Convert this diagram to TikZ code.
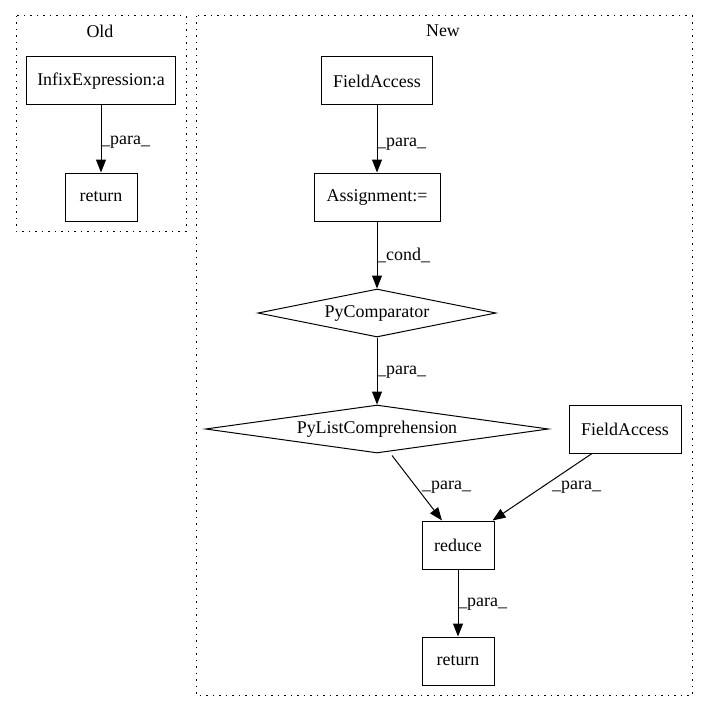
\documentclass[tikz,border=0pt]{standalone}
\usepackage{fontspec}
\setmainfont{Liberation Serif}
\usetikzlibrary{arrows.meta,shapes.geometric}
\begin{document}
\begin{tikzpicture}[x=1bp,y=-1bp,
  every node/.style={font=\fontsize{18}{21}\selectfont},
  box/.style={draw,line width=1bp,rectangle,inner sep=0pt,minimum width=#1,minimum height=48bp},
  dia/.style={draw,line width=1bp,diamond,aspect=6,inner sep=0pt,minimum width=#1,minimum height=48bp},
  cluster/.style={draw,line width=1bp,dash pattern=on 1.5bp off 5bp},
  edge/.style={line width=1bp,-{Triangle[length=13bp,width=10bp]}},
  elabel/.style={anchor=west,inner sep=0pt}
]
\useasboundingbox (0,0) rectangle (708,712);
\fill[white] (0,0) rectangle (708,712);

% clusters
\draw[cluster] (16,16) rectangle (186,231);
\draw[cluster] (196,16) rectangle (692,695);
\node (told) at (100,31) {Old};
\node (tnew) at (443,31) {New};

% Old
\node[box=149bp] (infix) at (101,81) {InfixExpression:a};
\node[box=72bp] (ret1) at (101,197) {return};
\draw[edge] (infix) -- (ret1);
\node[elabel] (l1) at (101,142) {\_para\_};

% New
\node[box=111bp] (fa1) at (377,81) {FieldAccess};
\node[box=126bp] (assign) at (377,197) {Assignment:=};
\node[dia=238bp] (cmp) at (377,313) {PyComparator};
\node[dia=343bp] (plc) at (377,429) {PyListComprehension};
\node[box=112bp] (fa2) at (625,429) {FieldAccess};
\node[box=72bp] (reduce) at (458,545) {reduce};
\node[box=72bp] (ret2) at (458,661) {return};

\draw[edge] (fa1) -- (assign);
\node[elabel] (l2) at (377,144) {\_para\_};
\draw[edge] (assign) -- (cmp);
\node[elabel] (l3) at (377,255) {\_cond\_};
\draw[edge] (cmp) -- (plc);
\node[elabel] (l4) at (377,372) {\_para\_};
\draw[edge] ([xshift=15bp,yshift=-2bp]plc.south) -- ([xshift=-16bp]reduce.north);
\node[elabel] (l5) at (422,487) {\_para\_};
\draw[edge] ([xshift=-33bp]fa2.south) -- ([xshift=-2bp]reduce.north east);
\node[elabel] (l6) at (552,487) {\_para\_};
\draw[edge] (reduce) -- (ret2);
\node[elabel] (l7) at (458,604) {\_para\_};
\end{tikzpicture}
\end{document}
